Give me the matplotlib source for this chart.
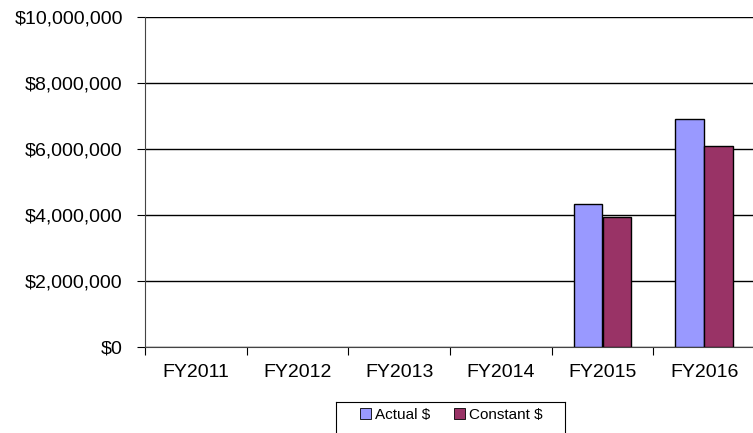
import matplotlib
matplotlib.use("Agg")
import matplotlib.pyplot as plt
from matplotlib.lines import Line2D
import numpy as np

plt.rcParams['font.family'] = ['Liberation Sans', 'DejaVu Sans']

# data
years = ["FY2011", "FY2012", "FY2013", "FY2014", "FY2015", "FY2016"]
actual = [0, 0, 0, 0, 4320000, 6900000]
constant = [0, 0, 0, 0, 3930000, 6100000]

fig = plt.figure(figsize=(7.53, 4.33), dpi=100)
ax = fig.add_axes([145 / 753, 86 / 433, 610 / 753, 330 / 433])

x = np.arange(len(years))
w = 0.285
a = np.array(actual, dtype=float)
c = np.array(constant, dtype=float)
ma, mc = a > 0, c > 0
ax.bar(x[ma] - w / 2, a[ma], w, color='#9999FF', edgecolor='black', linewidth=1, label='Actual $', zorder=3)
ax.bar(x[mc] + w / 2, c[mc], w, color='#993366', edgecolor='black', linewidth=1, label='Constant $', zorder=3)

ax.set_xlim(-0.5, len(years) - 0.5)
ax.set_ylim(0, 10000000)
ax.set_yticks(np.arange(0, 10000001, 2000000))
ax.set_yticklabels(['${:,.0f}'.format(v) for v in ax.get_yticks()], fontsize=14)
ax.yaxis.grid(True, color='black', linewidth=1, zorder=0)

# category boundaries as ticks, names centered
ax.set_xticks(np.arange(len(years) + 1) - 0.5)
ax.set_xticklabels([])
ax.set_xticks(x, minor=True)
ax.set_xticklabels(years, minor=True, fontsize=14)
ax.tick_params(axis='x', which='major', length=6, color='black')
ax.tick_params(axis='x', which='minor', length=0, pad=12)
ax.tick_params(axis='y', length=6, pad=10)

for s in ['top', 'right']:
    ax.spines[s].set_visible(False)
ax.spines['left'].set_color('#444444')
ax.spines['bottom'].set_color('#444444')

leg = fig.legend(loc='upper left', bbox_to_anchor=(360 / 753, 1 - 408 / 433), ncol=2,
                 fontsize=11, frameon=False,
                 handlelength=0.7, handleheight=0.7, handletextpad=0.25, columnspacing=1.6,
                 borderpad=0, borderaxespad=0)
for h in leg.legend_handles:
    h.set_linewidth(0.6)

# legend frame (bottom edge lies below the image)
x0, x1, y0 = 336 / 753, 565 / 753, 1 - 402 / 433
for xs, ys in [([x0, x0], [-0.1, y0]), ([x0, x1], [y0, y0]), ([x1, x1], [y0, -0.1])]:
    fig.add_artist(Line2D(xs, ys, transform=fig.transFigure, color='black', linewidth=0.8))

fig.savefig("out.png", dpi=100)
